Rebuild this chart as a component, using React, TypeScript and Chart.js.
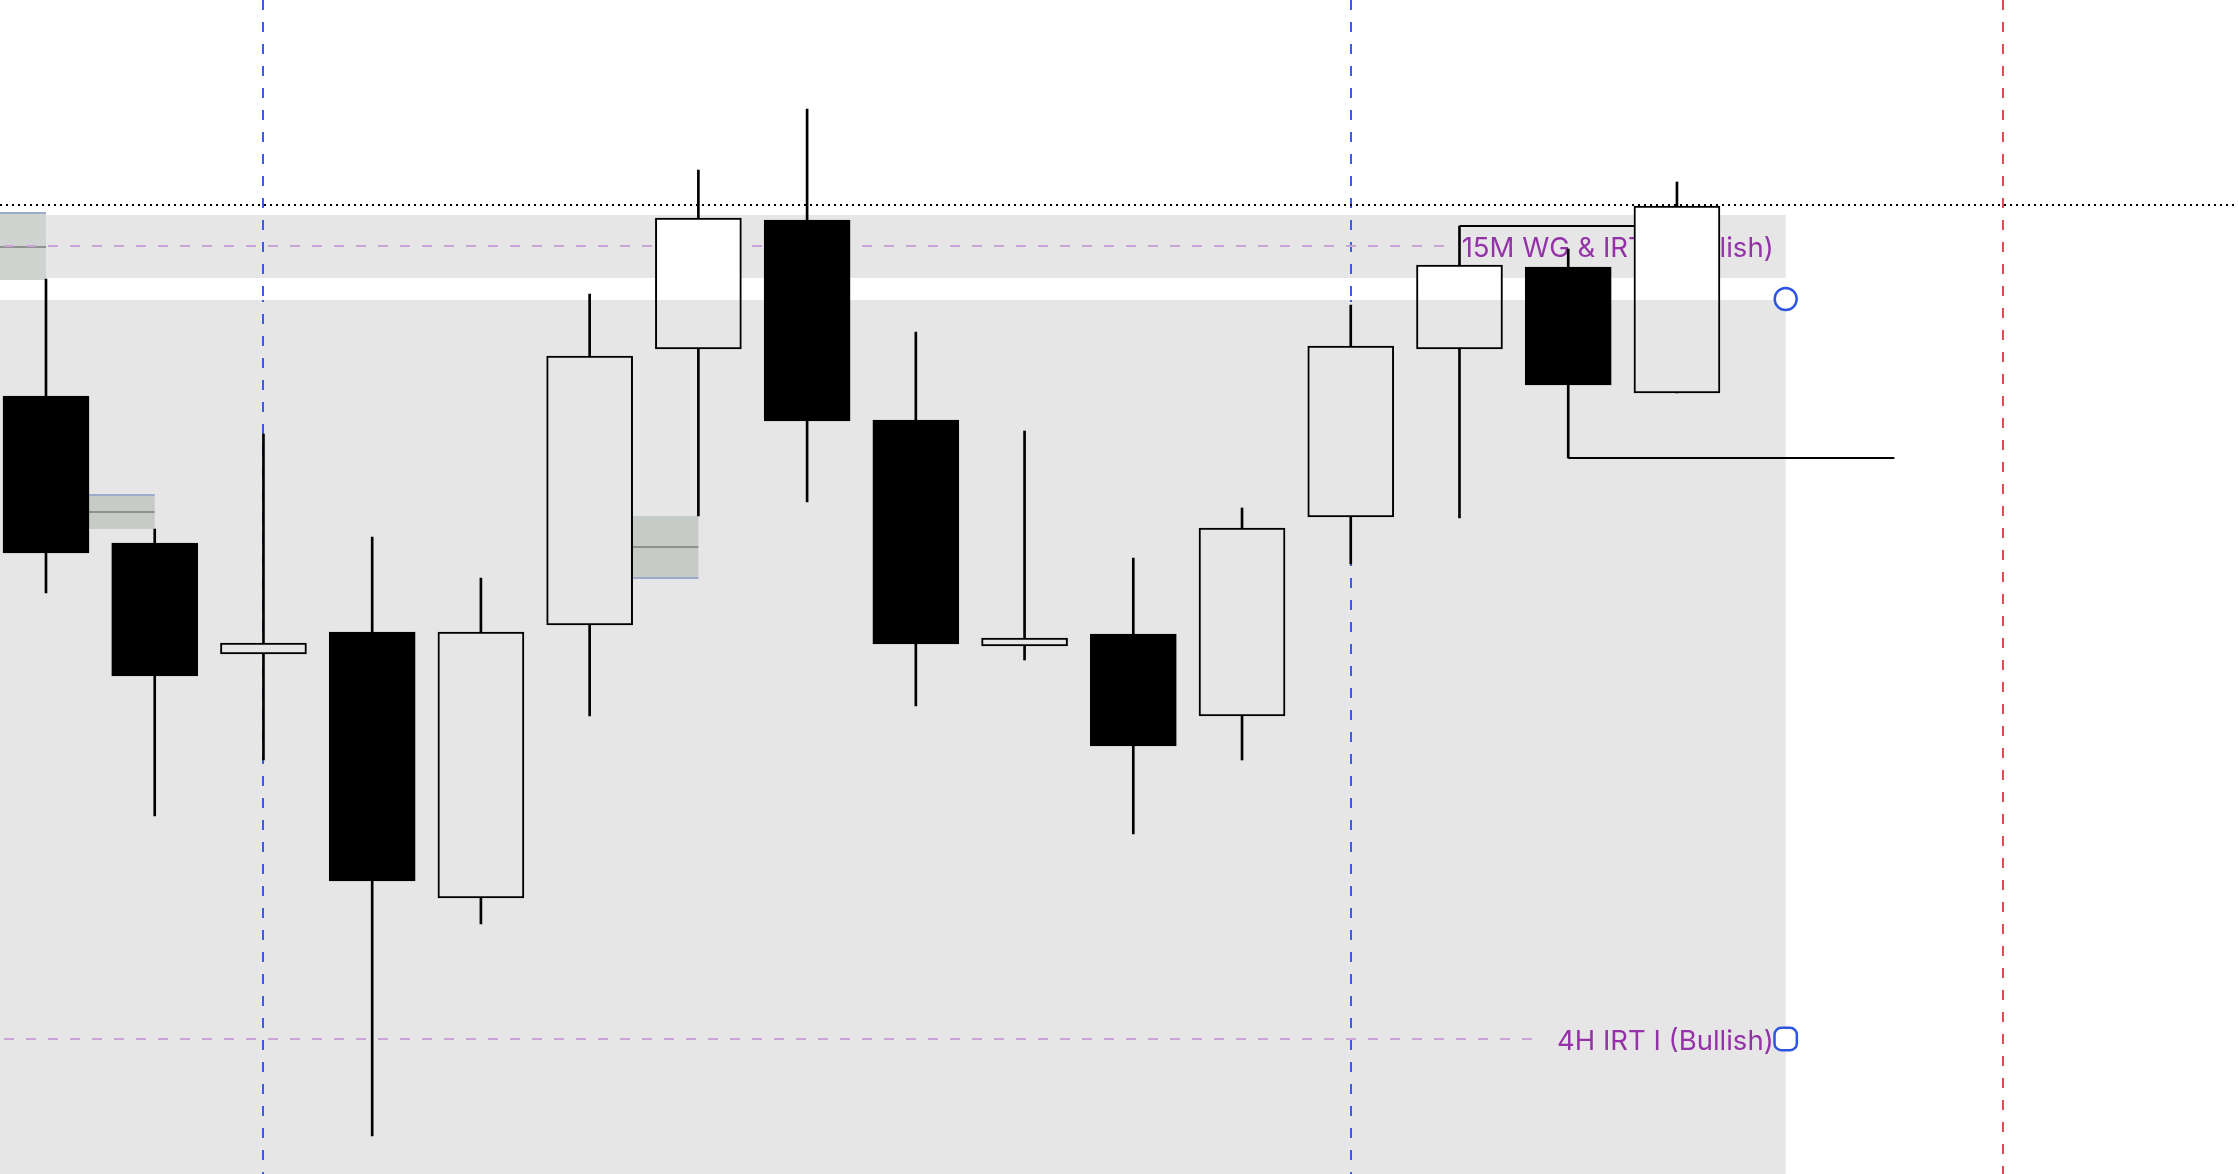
import React, { useEffect, useRef } from 'react';
import { Chart, registerables } from 'chart.js';

Chart.register(...registerables);

// ---- candle data (price units) ----
const candleIndex = [0, 1, 2, 3, 4, 5, 6, 7, 8, 9, 10, 11, 12, 13, 14, 15];
const opens = [5194.5, 5157.75, 5130, 5135.5, 5069, 5137.25, 5206.25, 5238.5, 5188.5, 5132, 5135, 5114.5, 5164.25, 5206.25, 5226.75, 5195.25];
const highs = [5223.75, 5161.25, 5185, 5159.25, 5149, 5220, 5251, 5266.25, 5210.5, 5185.75, 5154, 5166.5, 5217.25, 5237, 5231.25, 5248];
const lows = [5145.25, 5089.5, 5103.5, 5009.5, 5062.5, 5114.5, 5164.5, 5168, 5117, 5128.5, 5085, 5103.5, 5152.5, 5164, 5179, 5195.25];
const closes = [5155.25, 5124.5, 5132.75, 5073.25, 5135.5, 5204.5, 5239, 5188.25, 5132.5, 5134, 5107, 5161.5, 5207, 5227.25, 5197.25, 5242];

// ---- view range ----
const X_MIN = -0.423;
const X_MAX = 20.16;
const Y_MIN = 5000;
const Y_MAX = 5293.5;

// ---- shaded zones (upper one sits under the candles, lower one blends over them) ----
const upperZoneTop = 5239.75;
const upperZoneBottom = 5224;
const lowerZoneTop = 5218.5;
const lowerZoneBottom = 5000;
const zoneEndIndex = 16;
const ZONE_GRAY = '#e6e6e6';
const ZONE_FACTOR = 0xe6 / 255;

// ---- fair value gap boxes ----
const fvgStartIndex = [-1, 0, 5];
const fvgEndIndex = [0, 1, 6];
const fvgTops = [5240.25, 5169.75, 5164.5];
const fvgBottoms = [5223.5, 5161.25, 5149];
const fvgMids = [5231.75, 5165.5, 5156.75];
const fvgBullish = [false, false, true];
const fvgFills = ['#cfd4d0', '#c7cbc7', '#c7cbc7'];

// ---- labelled levels ----
const levelPrices = [5232, 5033.75];
const levelLabels = ['15M WG & IRT I (Bullish)', '4H IRT I (Bullish)'];
const levelEndIndex = 16;

// ---- markers ----
const markerIndex = [16, 16];
const markerPrices = [5218.75, 5033.75];
const markerStyles = ['circle', 'rectRounded'];

// ---- swing lines ----
const swingFrom = [13, 14];
const swingTo = [15, 17];
const swingPrices = [5237, 5179];

// ---- vertical session lines ----
const blueLineIndex = [2, 12];
const redLineIndex = [18];

const BODY_W = 86;

function hexToRgb(h: string) {
  const n = parseInt(h.slice(1), 16);
  return [(n >> 16) & 255, (n >> 8) & 255, n & 255];
}
// colour that, after being multiplied by the lower zone gray, looks like `h`
function underZone(h: string) {
  const c = hexToRgb(h).map((v) => Math.min(255, Math.round(v / ZONE_FACTOR)));
  return `rgb(${c[0]},${c[1]},${c[2]})`;
}

function drawLevel(ctx: any, chart: any, i: number) {
  const { chartArea, scales } = chart;
  const x = scales.x;
  const y = scales.y;
  ctx.save();
  ctx.globalCompositeOperation = 'source-over';
  ctx.font = '400 27.5px Inter';
  ctx.textAlign = 'right';
  ctx.textBaseline = 'middle';
  const py = y.getPixelForValue(levelPrices[i]);
  const tx = x.getPixelForValue(levelEndIndex) - 12;
  const w = ctx.measureText(levelLabels[i]).width;
  ctx.strokeStyle = '#c8a4d9';
  ctx.lineWidth = 2;
  ctx.setLineDash([10, 12]);
  ctx.lineDashOffset = -4;
  ctx.beginPath();
  ctx.moveTo(chartArea.left, py);
  ctx.lineTo(tx - w - 14, py);
  ctx.stroke();
  ctx.setLineDash([]);
  ctx.fillStyle = '#9432a8';
  ctx.fillText(levelLabels[i], tx, py + 2.5);
  ctx.restore();
}

const overlayPlugin = {
  id: 'overlay',
  beforeDatasetsDraw(chart: any) {
    const { ctx, chartArea, scales } = chart;
    const x = scales.x;
    const y = scales.y;
    ctx.save();

    // upper zone
    ctx.fillStyle = ZONE_GRAY;
    {
      const x0 = chartArea.left;
      const x1 = x.getPixelForValue(zoneEndIndex);
      const y0 = y.getPixelForValue(upperZoneTop);
      const y1 = y.getPixelForValue(upperZoneBottom);
      ctx.fillRect(x0, y0, x1 - x0, y1 - y0);
    }

    // vertical dashed lines (split where the lower zone blends over them)
    const zx1 = x.getPixelForValue(zoneEndIndex);
    const zy0 = y.getPixelForValue(lowerZoneTop);
    ctx.lineWidth = 2;
    const vlines: [number[], string][] = [[blueLineIndex, '#3a5de6'], [redLineIndex, '#e24a52']];
    for (const [arr, col] of vlines) {
      for (const idx of arr) {
        const px = Math.round(x.getPixelForValue(idx));
        ctx.setLineDash([10, 12]);
        if (px < zx1) {
          ctx.strokeStyle = col;
          ctx.beginPath();
          ctx.moveTo(px, chartArea.top);
          ctx.lineTo(px, zy0);
          ctx.stroke();
          ctx.lineDashOffset = -(zy0 - chartArea.top);
          ctx.strokeStyle = underZone(col);
          ctx.beginPath();
          ctx.moveTo(px, zy0);
          ctx.lineTo(px, chartArea.bottom);
          ctx.stroke();
          ctx.lineDashOffset = 0;
        } else {
          ctx.strokeStyle = col;
          ctx.beginPath();
          ctx.moveTo(px, chartArea.top);
          ctx.lineTo(px, chartArea.bottom);
          ctx.stroke();
        }
      }
    }

    // fvg boxes
    ctx.setLineDash([]);
    for (let i = 0; i < fvgTops.length; i++) {
      const x0 = Math.max(chartArea.left, x.getPixelForValue(fvgStartIndex[i]) + BODY_W / 2);
      const x1 = x.getPixelForValue(fvgEndIndex[i]);
      const y0 = y.getPixelForValue(fvgTops[i]);
      const y1 = y.getPixelForValue(fvgBottoms[i]);
      const inLower = fvgTops[i] <= lowerZoneTop;
      const col = (c: string) => (inLower ? underZone(c) : c);
      ctx.fillStyle = col(fvgFills[i]);
      ctx.fillRect(x0, y0, x1 - x0, y1 - y0);
      const ym = y.getPixelForValue(fvgMids[i]);
      ctx.strokeStyle = col('#8e928e');
      ctx.lineWidth = 2;
      ctx.beginPath();
      ctx.moveTo(x0, ym);
      ctx.lineTo(x1, ym);
      ctx.stroke();
      const ye = fvgBullish[i] ? y1 : y0;
      ctx.strokeStyle = col('#9dabca');
      ctx.beginPath();
      ctx.moveTo(x0, ye);
      ctx.lineTo(x1, ye);
      ctx.stroke();
    }

    // upper labelled level (under the candles)
    drawLevel(ctx, chart, 0);

    // swing lines
    ctx.strokeStyle = '#000';
    ctx.lineWidth = 2;
    for (let i = 0; i < swingPrices.length; i++) {
      const py = Math.round(y.getPixelForValue(swingPrices[i]));
      ctx.beginPath();
      ctx.moveTo(x.getPixelForValue(swingFrom[i]), py);
      ctx.lineTo(x.getPixelForValue(swingTo[i]), py);
      ctx.stroke();
    }

    // current price dotted line
    const cp = Math.round(y.getPixelForValue(closes[closes.length - 1])) - 1;
    ctx.setLineDash([2, 4]);
    ctx.beginPath();
    ctx.moveTo(chartArea.left, cp);
    ctx.lineTo(chartArea.right, cp);
    ctx.stroke();

    ctx.restore();
  },
  afterDatasetDraw(chart: any, args: any) {
    // after the candle bodies (dataset index 1), blend the lower zone over everything beneath
    if (args.index !== 1) return;
    const { ctx, chartArea, scales } = chart;
    const x = scales.x;
    const y = scales.y;
    ctx.save();
    ctx.globalCompositeOperation = 'multiply';
    ctx.fillStyle = ZONE_GRAY;
    const x0 = chartArea.left;
    const x1 = x.getPixelForValue(zoneEndIndex);
    const y0 = y.getPixelForValue(lowerZoneTop);
    const y1 = y.getPixelForValue(lowerZoneBottom);
    ctx.fillRect(x0, y0, x1 - x0, y1 - y0);
    ctx.restore();
    drawLevel(ctx, chart, 1);
  },
};

export default function App() {
  const canvasRef = useRef<HTMLCanvasElement | null>(null);

  useEffect(() => {
    document.documentElement.style.overflow = 'hidden';
    document.body.style.margin = '0';
    document.body.style.overflow = 'hidden';
    const canvas = canvasRef.current;
    if (!canvas) return;

    const bull = candleIndex.map((i) => closes[i] >= opens[i]);

    const chart = new Chart(canvas, {
      type: 'bar',
      data: {
        datasets: [
          {
            type: 'line',
            label: 'markers',
            data: markerIndex.map((m, i) => ({ x: m, y: markerPrices[i] })),
            showLine: false,
            pointStyle: markerStyles as any,
            pointRadius: [11, 13],
            pointBorderWidth: 2.5,
            pointBorderColor: '#2f55e0',
            pointBackgroundColor: '#ffffff',
            clip: false,
            order: 0,
          } as any,
          {
            label: 'bodies',
            data: candleIndex.map((i) => ({ x: i, y: [opens[i], closes[i]] })),
            backgroundColor: candleIndex.map((i) => (bull[i] ? '#ffffff' : '#000000')),
            borderColor: '#000000',
            borderWidth: 2,
            borderSkipped: false,
            barThickness: BODY_W,
            grouped: false,
            order: 1,
          } as any,
          {
            label: 'wicks',
            data: candleIndex.map((i) => ({ x: i, y: [lows[i], highs[i]] })),
            backgroundColor: '#000000',
            borderWidth: 0,
            barThickness: 2,
            grouped: false,
            order: 2,
          } as any,
        ],
      },
      options: {
        animation: false,
        responsive: false,
        devicePixelRatio: 1,
        events: [],
        layout: { padding: 0, autoPadding: false },
        plugins: { legend: { display: false }, tooltip: { enabled: false } },
        scales: {
          x: { type: 'linear', min: X_MIN, max: X_MAX, offset: false, display: false },
          y: { type: 'linear', min: Y_MIN, max: Y_MAX, display: false },
        },
      },
      plugins: [overlayPlugin],
    } as any);

    return () => chart.destroy();
  }, []);

  return (
    <div style={{ position: 'fixed', left: 0, top: 0, width: 2238, height: 1174, background: '#ffffff', overflow: 'hidden' }}>
      <canvas ref={canvasRef} width={2238} height={1174} style={{ display: 'block', width: 2238, height: 1174 }} />
    </div>
  );
}
